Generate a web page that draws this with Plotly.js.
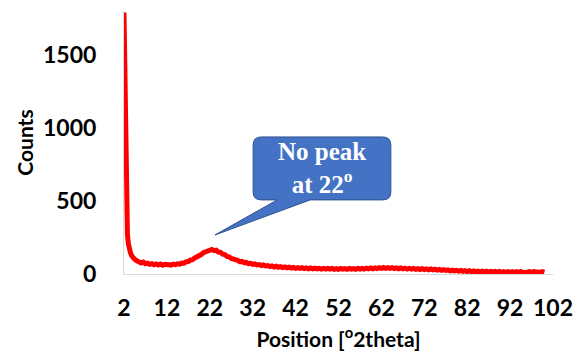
<!DOCTYPE html>
<html>
<head>
<meta charset="utf-8">
<script src="https://cdn.plot.ly/plotly-3.0.1.min.js"></script>
<style>html,body{margin:0;padding:0;background:#fff;}#chart{width:579px;height:351px;}</style>
</head>
<body>
<div id="chart"></div>
<script>
const angles = [2.0,2.05,2.1,2.2,2.3,2.4,2.5,2.6,2.7,2.8,3.0,3.2,3.5,3.8,4.0,4.5,5.0,5.5,
6,6.5,7,7.5,8,8.5,9,9.5,10,10.5,11,11.5,12,12.5,13,13.5,14,14.5,15,15.5,16,16.5,17,17.5,18,18.5,19,19.5,
20,20.5,21,21.5,22,22.5,23,23.5,24,24.5,25,25.5,26,26.5,27,27.5,28,28.5,29,29.5,30,30.5,31,31.5,32,32.5,33,33.5,34,34.5,35,35.5,36,36.5,37,37.5,38,38.5,39,39.5,
40,40.5,41,41.5,42,42.5,43,43.5,44,44.5,45,45.5,46,46.5,47,47.5,48,48.5,49,49.5,50,50.5,51,51.5,52,52.5,53,53.5,54,54.5,55,55.5,56,56.5,57,57.5,58,58.5,59,59.5,
60,60.5,61,61.5,62,62.5,63,63.5,64,64.5,65,65.5,66,66.5,67,67.5,68,68.5,69,69.5,70,70.5,71,71.5,72,72.5,73,73.5,74,74.5,75,75.5,76,76.5,77,77.5,78,78.5,79,79.5,
80,80.5,81,81.5,82,82.5,83,83.5,84,84.5,85,85.5,86,86.5,87,87.5,88,88.5,89,89.5,90,90.5,91,91.5,92,92.5,93,93.5,94,94.5,95,95.5,96,96.5,97,97.5,98,98.5,99,99.5,100];
const counts = [1790,1650,1450,1200,950,720,520,400,320,270,210,175,145,125,115,100,90,84,
76,82,70,74,66,71,63,69,62,68,60,67,62,66,61,68,64,70,67,75,74,84,85,96,98,110,115,128,
133,146,150,160,158,168,160,163,150,148,136,133,120,118,106,104,94,93,84,86,77,79,71,73,66,69,62,65,58,62,55,58,51,55,48,53,46,50,44,49,
42,47,41,45,39,44,38,43,37,42,36,41,35,40,35,39,34,39,33,38,33,38,32,37,32,38,33,37,32,38,33,37,32,38,34,39,34,40,35,41,
36,42,37,43,38,44,38,43,38,43,37,42,36,41,35,40,34,39,33,38,32,37,31,36,30,35,29,34,28,33,27,31,25,30,24,28,22,27,21,25,
20,24,18,23,17,22,16,21,15,20,14,19,14,19,13,18,13,18,13,18,12,17,12,17,12,17,12,17,12,16,11,16,12,16,11,16,12,16,11,16,12];
const yTicks = [0,500,1000,1500];
const xTicks = [2,12,22,32,42,52,62,72,82,92,102];

const tickFont = {family:'Lato, "Open Sans", sans-serif', size:23, color:'#000', weight:'bold'};
const titleFont = {family:'Lato, "Open Sans", sans-serif', size:21, color:'#000', weight:'bold'};

const trace = {x:angles, y:counts, type:'scatter', mode:'lines',
  line:{color:'#ff0000', width:5}, hoverinfo:'skip', showlegend:false};

const calloutPath = 'M 34.0,938 L 62.3,938 Q 64.2,938 64.2,883 L 64.2,562 Q 64.2,507 62.3,507 L 45.4,507 L 23.2,267 L 37.7,507 L 34.0,507 Q 32.1,507 32.1,562 L 32.1,883 Q 32.1,938 34.0,938 Z';

const layout = {
  width:579, height:351,
  margin:{l:124, r:26, t:11, b:77},
  paper_bgcolor:'#fff', plot_bgcolor:'#fff',
  xaxis:{range:[2,102], tickvals:xTicks, ticktext:xTicks.map(String), showgrid:false, zeroline:false,
    showline:true, linecolor:'#d9d9d9', linewidth:1, ticks:'', tickfont:tickFont, ticklabelstandoff:13,
    title:{text:'Position [<sup>o</sup>2theta]', font:titleFont, standoff:12}},
  yaxis:{range:[0,1800], tickvals:yTicks, ticktext:yTicks.map(String), showgrid:false, zeroline:false,
    showline:true, linecolor:'#d9d9d9', linewidth:1, ticks:'', tickfont:tickFont, ticklabelstandoff:22,
    title:{text:'Counts', font:titleFont, standoff:3}},
  shapes:[{type:'path', xref:'x', yref:'y', path:calloutPath, fillcolor:'#4472C4',
    line:{color:'#2F528F', width:1}, layer:'above'}],
  annotations:[{xref:'x', yref:'y', x:48.2, y:725, text:'No peak<br>at 22<sup>o</sup>', showarrow:false,
    font:{family:'"Liberation Serif", "Times New Roman", serif', size:25, color:'#fff', weight:'bold'}, align:'center'}]
};
Plotly.newPlot('chart', [trace], layout, {displayModeBar:false, staticPlot:true});
</script>
</body>
</html>
